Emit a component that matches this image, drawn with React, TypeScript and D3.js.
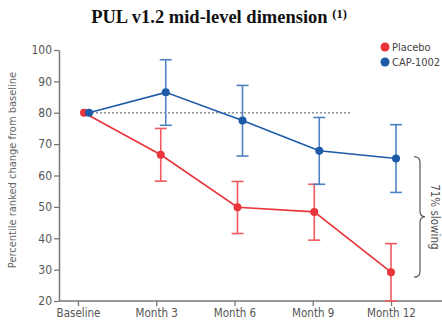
import { useEffect, useRef } from "react";
import * as d3 from "d3";

// categorías y valores
const timepoints = ["Baseline", "Month 3", "Month 6", "Month 9", "Month 12"];
const months = [0, 3, 6, 9, 12];

const placeboMean = [80, 66.6, 49.9, 48.4, 29.2];
const placeboLow = [80, 58.2, 41.5, 39.4, 20];
const placeboHigh = [80, 75.0, 58.1, 57.2, 38.3];

const capMean = [80, 86.5, 77.5, 67.9, 65.4];
const capLow = [80, 76.0, 66.2, 57.2, 54.6];
const capHigh = [80, 96.9, 88.7, 78.5, 76.2];

const yTicks = [20, 30, 40, 50, 60, 70, 80, 90, 100];

const RED = "#e8343a";
const BLUE = "#1d5ba8";
const AXIS_FONT = "'Liberation Sans Narrow', 'DejaVu Sans Condensed', 'Open Sans', sans-serif";

const App = () => {
  const ref = useRef<SVGSVGElement | null>(null);

  useEffect(() => {
    if (!ref.current) return;
    const svg = d3.select(ref.current);
    svg.selectAll("*").remove();

    const W = 442;
    const H = 324;

    // escalas
    const y = d3.scaleLinear().domain([20, 100]).range([301, 50]);
    const xTick = d3.scaleLinear().domain([0, 12]).range([78, 391]);
    const xData = d3.scaleLinear().domain([0, 12]).range([84, 391]);

    // título
    const title = svg
      .append("text")
      .attr("x", 219)
      .attr("y", 23)
      .attr("text-anchor", "middle")
      .style("font-family", "'Liberation Serif', 'Times New Roman', serif")
      .style("font-weight", "700")
      .style("font-size", "18.5px")
      .style("fill", "#111");
    title.append("tspan").text("PUL v1.2 mid-level dimension ");
    title
      .append("tspan")
      .attr("dy", -5)
      .style("font-size", "12.5px")
      .text("(1)");

    // eje Y
    const yAxis = svg
      .append("g")
      .attr("transform", `translate(59,0)`)
      .call(d3.axisLeft(y).tickValues(yTicks).tickSize(5).tickSizeOuter(0));
    yAxis.select(".domain").style("stroke", "#777").style("stroke-width", 1.5);
    yAxis.selectAll("line").style("stroke", "#777").style("stroke-width", 1.3);
    yAxis
      .selectAll("text")
      .attr("x", -7)
      .style("font-family", AXIS_FONT)
      .style("font-size", "12px")
      .style("fill", "#555");

    // eje X
    const xAxis = svg
      .append("g")
      .attr("transform", `translate(0,${y(20)})`)
      .call(
        d3
          .axisBottom(xTick)
          .tickValues(months)
          .tickFormat((d, i) => timepoints[i])
          .tickSize(5)
          .tickSizeOuter(0)
      );
    xAxis.select(".domain").attr("d", `M59,0H${W}`).style("stroke", "#777").style("stroke-width", 1.5);
    xAxis.selectAll("line").style("stroke", "#777").style("stroke-width", 1.3);
    xAxis
      .selectAll("text")
      .attr("y", 8)
      .style("font-family", AXIS_FONT)
      .style("font-size", "11.5px")
      .style("fill", "#555");

    // título del eje Y
    svg
      .append("text")
      .attr("transform", `translate(16,${170}) rotate(-90)`)
      .attr("text-anchor", "middle")
      .style("font-family", AXIS_FONT)
      .style("font-size", "11px")
      .style("fill", "#666")
      .text("Percentile ranked change from baseline");

    // línea de referencia punteada en 80
    svg
      .append("line")
      .attr("x1", xData(0))
      .attr("x2", 352)
      .attr("y1", y(80))
      .attr("y2", y(80))
      .attr("stroke", "#8a8f98")
      .attr("stroke-width", 1.6)
      .attr("stroke-dasharray", "2,2");

    const series = [
      { color: RED, bar: "#ee5a5e", dx: 0, mean: placeboMean, low: placeboLow, high: placeboHigh },
      { color: BLUE, bar: "#4f82c2", dx: 5, mean: capMean, low: capLow, high: capHigh },
    ];

    series.forEach((s) => {
      const g = svg.append("g");
      const pts = months.map((m, i) => ({ x: xData(m) + s.dx, i }));

      // barras de error
      pts.forEach(({ x, i }) => {
        if (s.low[i] === s.high[i]) return;
        g.append("line")
          .attr("x1", x)
          .attr("x2", x)
          .attr("y1", y(s.low[i]))
          .attr("y2", y(s.high[i]))
          .attr("stroke", s.bar)
          .attr("stroke-width", 1.6);
        [s.low[i], s.high[i]].forEach((v) => {
          g.append("line")
            .attr("x1", x - 6)
            .attr("x2", x + 6)
            .attr("y1", y(v))
            .attr("y2", y(v))
            .attr("stroke", s.bar)
            .attr("stroke-width", 1.6);
        });
      });

      // línea
      const line = d3
        .line<{ x: number; i: number }>()
        .x((d) => d.x)
        .y((d) => y(s.mean[d.i]));
      g.append("path")
        .datum(pts)
        .attr("d", line)
        .attr("fill", "none")
        .attr("stroke", s.color)
        .attr("stroke-width", 1.6);

      // puntos
      g.selectAll("circle")
        .data(pts)
        .enter()
        .append("circle")
        .attr("cx", (d) => d.x)
        .attr("cy", (d) => y(s.mean[d.i]))
        .attr("r", 4)
        .attr("fill", s.color);
    });

    // llave "71% slowing"
    const top = y(capMean[4]) - 2;
    const bot = y(placeboMean[4]) + 5;
    const mid = (top + bot) / 2;
    const bx = 420;
    svg
      .append("path")
      .attr(
        "d",
        `M${bx - 6},${top} Q${bx},${top} ${bx},${top + 6} L${bx},${mid - 6} Q${bx},${mid} ${bx + 5},${mid} ` +
          `Q${bx},${mid} ${bx},${mid + 6} L${bx},${bot - 6} Q${bx},${bot} ${bx - 6},${bot}`
      )
      .attr("fill", "none")
      .attr("stroke", "#555")
      .attr("stroke-width", 1.2);
    svg
      .append("text")
      .attr("transform", `translate(431,${mid}) rotate(90)`)
      .attr("text-anchor", "middle")
      .style("font-family", AXIS_FONT)
      .style("font-size", "11.5px")
      .style("fill", "#555")
      .text("71% slowing");

    // leyenda
    const legend = svg.append("g").attr("transform", "translate(385,47)");
    [
      { label: "Placebo", color: RED },
      { label: "CAP-1002", color: BLUE },
    ].forEach((d, i) => {
      legend
        .append("circle")
        .attr("cx", 0)
        .attr("cy", i * 15)
        .attr("r", 4.5)
        .attr("fill", d.color);
      legend
        .append("text")
        .attr("x", 7)
        .attr("y", i * 15 + 4)
        .style("font-family", AXIS_FONT)
        .style("font-size", "11px")
        .style("fill", "#444")
        .text(d.label);
    });

    svg.attr("width", W).attr("height", H);
  }, []);

  return (
    <svg
      ref={ref}
      width={442}
      height={324}
      style={{ position: "absolute", left: 0, top: 0, background: "#fff" }}
    />
  );
};

export default App;
